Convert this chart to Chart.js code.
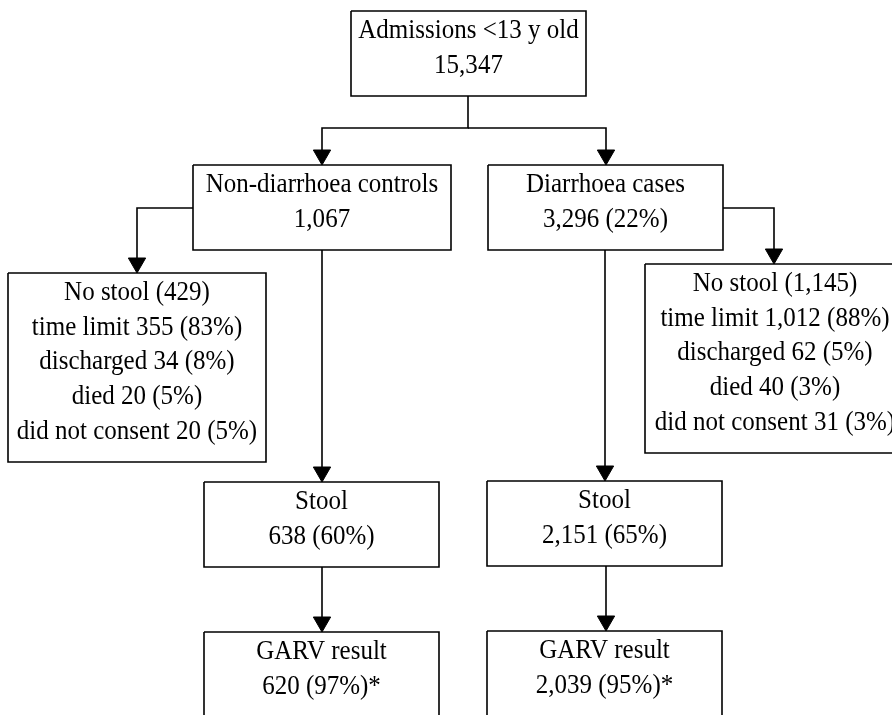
<!DOCTYPE html>
<html>
<head>
<meta charset="utf-8">
<script src="https://cdn.jsdelivr.net/npm/chart.js@4.4.1/dist/chart.umd.min.js"></script>
<style>
  html, body { margin: 0; padding: 0; background: #fff; }
  canvas { display: block; }
</style>
</head>
<body>
<canvas id="flow" width="892" height="715"></canvas>
<script>
// box texts
const admissions = ['Admissions <13 y old', '15,347']
const controls = ['Non-diarrhoea controls', '1,067']
const cases = ['Diarrhoea cases', '3,296 (22%)']
const controlsNoStool = ['No stool (429)', 'time limit 355 (83%)', 'discharged 34 (8%)', 'died 20 (5%)', 'did not consent 20 (5%)']
const casesNoStool = ['No stool (1,145)', 'time limit 1,012 (88%)', 'discharged 62 (5%)', 'died 40 (3%)', 'did not consent 31 (3%)']
const controlsStool = ['Stool', '638 (60%)']
const casesStool = ['Stool', '2,151 (65%)']
const controlsGarv = ['GARV result', '620 (97%)*']
const casesGarv = ['GARV result', '2,039 (95%)*']

// layout: [left, top, right, bottom] in page units (y grows down)
const boxes = [
	{ lines: admissions, box: [351, 11, 586, 96] },
	{ lines: controls, box: [193, 165, 451, 250] },
	{ lines: cases, box: [488, 165, 723, 250] },
	{ lines: controlsNoStool, box: [8, 273, 266, 462] },
	{ lines: casesNoStool, box: [645, 264, 905, 453] },
	{ lines: controlsStool, box: [204, 482, 439, 567] },
	{ lines: casesStool, box: [487, 481, 722, 566] },
	{ lines: controlsGarv, box: [204, 632, 439, 730] },
	{ lines: casesGarv, box: [487, 631, 722, 730] },
]

const HEAD = 10 // arrow head radius
const arrows = [
	[[468, 96], [468, 128], [322, 128], [322, 165]],
	[[468, 128], [606, 128], [606, 165]],
	[[193, 208], [137, 208], [137, 273]],
	[[322, 250], [322, 482]],
	[[723, 208], [774, 208], [774, 264]],
	[[605, 250], [605, 481]],
	[[322, 567], [322, 632]],
	[[606, 566], [606, 631]],
]

const datasets = []
boxes.forEach(b => {
	const [l, t, r, btm] = b.box
	datasets.push({
		data: [{ x: l, y: t }, { x: r, y: t }, { x: r, y: btm }, { x: l, y: btm }, { x: l, y: t }],
		showLine: true,
		borderColor: '#000',
		borderWidth: 1.6,
		pointRadius: 0,
		fill: false,
		tension: 0,
	})
})
arrows.forEach(a => {
	const pts = a.map((p, i) => ({ x: p[0], y: i === a.length - 1 ? p[1] - HEAD : p[1] }))
	datasets.push({
		data: pts,
		showLine: true,
		borderColor: '#000',
		borderWidth: 1.6,
		pointRadius: pts.map((p, i) => i === pts.length - 1 ? HEAD : 0),
		pointStyle: 'triangle',
		rotation: 180,
		pointBackgroundColor: '#000',
		pointBorderColor: '#000',
		pointBorderWidth: 1,
		fill: false,
		tension: 0,
	})
})

// text is a bit narrower than plain Times in the original, so squeeze it
const boxText = {
	id: 'boxText',
	afterDatasetsDraw(chart) {
		const ctx = chart.ctx
		const xs = chart.scales.x, ys = chart.scales.y
		ctx.save()
		ctx.fillStyle = '#000'
		ctx.font = '27px "Liberation Serif", "Times New Roman", serif'
		ctx.textAlign = 'center'
		ctx.textBaseline = 'alphabetic'
		boxes.forEach(b => {
			const [l, t, r] = b.box
			const cx = xs.getPixelForValue((l + r) / 2)
			b.lines.forEach((line, i) => {
				ctx.save()
				ctx.translate(cx, ys.getPixelForValue(t + 27 + i * 34.7))
				ctx.scale(0.926, 1)
				ctx.fillText(line, 0, 0)
				ctx.restore()
			})
		})
		ctx.restore()
	}
}

const chart = new Chart(document.getElementById('flow'), {
	type: 'scatter',
	data: { datasets },
	options: {
		responsive: false,
		animation: false,
		layout: { padding: 0, autoPadding: false },
		scales: {
			x: { type: 'linear', min: 0, max: 892, display: false },
			y: { type: 'linear', min: 0, max: 715, reverse: true, display: false },
		},
		plugins: { legend: { display: false }, tooltip: { enabled: false } },
	},
	plugins: [boxText],
})
</script>
</body>
</html>
